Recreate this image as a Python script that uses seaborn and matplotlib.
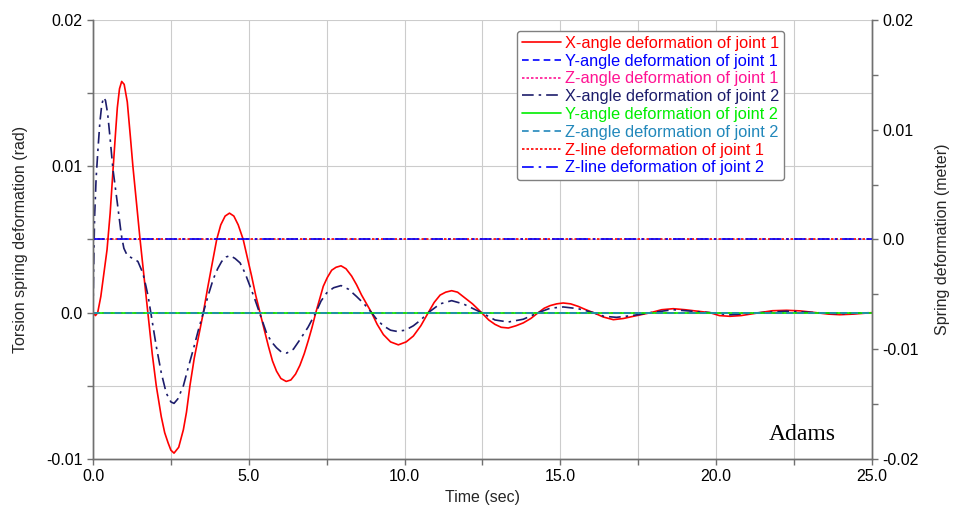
import numpy as np
import pandas as pd
import matplotlib
matplotlib.use("Agg")
import matplotlib.pyplot as plt
from matplotlib.ticker import MultipleLocator, FuncFormatter
import seaborn as sns

# ---- data ----
# X-angle deformation of joint 1 (rad, left axis)
t_x1 = [0.0, 0.08, 0.15, 0.25, 0.35, 0.45, 0.55, 0.65, 0.72, 0.78, 0.85, 0.92,
        1.00, 1.10, 1.20, 1.28, 1.40, 1.51, 1.64, 1.76, 1.90, 2.03, 2.19, 2.30,
        2.41, 2.50, 2.60, 2.75, 2.90, 3.00, 3.11, 3.25, 3.40, 3.54, 3.68, 3.82,
        3.97, 4.10, 4.24, 4.38, 4.52, 4.66, 4.82, 4.96, 5.09, 5.22, 5.36, 5.50,
        5.63, 5.76, 5.89, 6.03, 6.20, 6.35, 6.50, 6.64, 6.78, 6.91, 7.03, 7.15,
        7.27, 7.39, 7.52, 7.66, 7.80, 7.96, 8.12, 8.30, 8.46, 8.62, 8.78, 8.94,
        9.12, 9.32, 9.55, 9.80, 10.05, 10.28, 10.52, 10.76, 10.95, 11.14, 11.32,
        11.51, 11.70, 11.88, 12.18, 12.47, 12.70, 12.90, 13.10, 13.33, 13.57,
        13.81, 14.05, 14.29, 14.48, 14.67, 14.88, 15.09, 15.33, 15.57, 15.82,
        16.06, 16.38, 16.70, 17.02, 17.34, 17.90, 18.25, 18.62, 19.00, 19.80,
        20.10, 20.44, 20.80, 21.40, 21.80, 22.26, 22.70, 23.20, 23.60, 23.97,
        24.40, 25.00]
x1_angle = [0.0, -0.0002, 0.0, 0.0011, 0.0027, 0.0043, 0.0068, 0.0100, 0.0122,
            0.0140, 0.0153, 0.0158, 0.0156, 0.0144, 0.0120, 0.0100, 0.0074,
            0.0050, 0.0024, 0.0, -0.0028, -0.0050, -0.0071, -0.0082, -0.0089,
            -0.0094, -0.0096, -0.0092, -0.0080, -0.0068, -0.0050, -0.0031,
            -0.0015, 0.0, 0.0017, 0.0033, 0.0050, 0.0060, 0.0066, 0.0068,
            0.0066, 0.0060, 0.0050, 0.0037, 0.0025, 0.0012, 0.0, -0.0012,
            -0.0023, -0.0033, -0.0040, -0.0045, -0.0047, -0.0046, -0.0042,
            -0.0036, -0.0028, -0.0019, -0.0010, 0.0, 0.0009, 0.0018, 0.0024,
            0.0029, 0.0031, 0.0032, 0.0030, 0.0025, 0.0019, 0.0012, 0.0006,
            0.0, -0.0008, -0.0015, -0.0020, -0.0022, -0.0020, -0.0016, -0.0009,
            0.0, 0.0007, 0.0012, 0.0014, 0.0015, 0.0014, 0.0011, 0.0006, 0.0,
            -0.0005, -0.0008, -0.0010, -0.00105, -0.0009, -0.0007, -0.0004,
            0.0, 0.0003, 0.00048, 0.0006, 0.00066, 0.0006, 0.00043, 0.0002,
            0.0, -0.0003, -0.00048, -0.0004, -0.00025, 0.0, 0.0002, 0.00027,
            0.0002, 0.0, -0.0002, -0.00025, -0.0002, 0.0, 0.00013, 0.00016,
            0.00012, 0.0, -0.0001, -0.00014, -0.0001, 0.0]

# X-angle deformation of joint 2 (rad, left axis)
t_x2 = [0.0, 0.02, 0.05, 0.10, 0.16, 0.22, 0.28, 0.34, 0.40, 0.47, 0.54, 0.64,
        0.78, 0.91, 0.99, 1.10, 1.28, 1.44, 1.60, 1.70, 1.77, 1.87, 2.03, 2.19,
        2.35, 2.50, 2.60, 2.72, 2.90, 3.05, 3.22, 3.38, 3.54, 3.70, 3.86, 4.00,
        4.13, 4.27, 4.40, 4.56, 4.72, 4.88, 5.04, 5.18, 5.31, 5.44, 5.57, 5.73,
        5.89, 6.05, 6.22, 6.43, 6.64, 6.90, 7.15, 7.32, 7.50, 7.72, 7.96, 8.20,
        8.46, 8.70, 8.94, 9.12, 9.32, 9.55, 9.75, 10.02, 10.28, 10.52, 10.76,
        11.14, 11.51, 11.88, 12.47, 12.90, 13.33, 13.81, 14.29, 14.67, 15.09,
        15.57, 16.06, 16.40, 16.80, 17.30, 17.90, 18.62, 19.80, 20.44, 21.40,
        22.26, 23.20, 23.97, 25.00]
x2_angle = [0.0, 0.0030, 0.0065, 0.0092, 0.0112, 0.0130, 0.0142, 0.0147,
            0.0145, 0.0136, 0.0121, 0.0098, 0.0075, 0.0053, 0.0044, 0.0039,
            0.0037, 0.0035, 0.0027, 0.0018, 0.0011, -0.0002, -0.0023, -0.0041,
            -0.0055, -0.0061, -0.0062, -0.0059, -0.0050, -0.0038, -0.0025,
            -0.0012, 0.0, 0.0012, 0.0023, 0.0030, 0.0035, 0.0038, 0.0039,
            0.0037, 0.0034, 0.0027, 0.0018, 0.0010, 0.0002, -0.0006, -0.0014,
            -0.0020, -0.0024, -0.0027, -0.00276, -0.0025, -0.00185, -0.0010,
            0.0, 0.0008, 0.00135, 0.0017, 0.00185, 0.0016, 0.0011, 0.0006, 0.0,
            -0.0005, -0.0009, -0.0012, -0.00128, -0.0012, -0.0009, -0.0005,
            0.0, 0.0006, 0.00082, 0.0006, 0.0, -0.0005, -0.00064, -0.00045,
            0.0, 0.0003, 0.00039, 0.00027, 0.0, -0.00025, -0.00032, -0.0002,
            0.0, 0.0002, 0.0, -0.00015, 0.0, 0.0001, 0.0, -0.00008, 0.0]

# the remaining channels stay flat at zero
t_flat = [0.0, 25.0]
y1_angle = [0.0, 0.0]
z1_angle = [0.0, 0.0]
y2_angle = [0.0, 0.0]
z2_angle = [0.0, 0.0]
z1_line = [0.0, 0.0]   # meter, right axis
z2_line = [0.0, 0.0]   # meter, right axis

sns.set_theme(style="ticks")
plt.rcParams['font.family'] = ['Liberation Sans', 'DejaVu Sans']
plt.rcParams['font.size'] = 11.5

fig = plt.figure(figsize=(9.54, 5.11), dpi=100)
ax = fig.add_axes([0.0975, 0.1018, 0.8165, 0.8591])
ax2 = ax.twinx()

left_series = [
    (t_x1, x1_angle, "X-angle deformation of joint 1", "#ff0000", "-"),
    (t_flat, y1_angle, "Y-angle deformation of joint 1", "#0000ff", (0, (4, 2.5))),
    (t_flat, z1_angle, "Z-angle deformation of joint 1", "#ff1493", (0, (1.5, 1.2))),
    (t_x2, x2_angle, "X-angle deformation of joint 2", "#1c1c6b", (0, (7, 3, 1.5, 3))),
    (t_flat, y2_angle, "Y-angle deformation of joint 2", "#00ee00", "-"),
    (t_flat, z2_angle, "Z-angle deformation of joint 2", "#2288bb", (0, (4, 2.5))),
]
right_series = [
    (t_flat, z1_line, "Z-line deformation of joint 1", "#ff0000", (0, (1.5, 1.2))),
    (t_flat, z2_line, "Z-line deformation of joint 2", "#0000ff", (0, (7, 3, 1.5, 3))),
]

for t, v, name, col, ls in left_series:
    sns.lineplot(x=t, y=v, ax=ax, color=col, linestyle=ls, lw=1.2, label=name)
for t, v, name, col, ls in right_series:
    sns.lineplot(x=t, y=v, ax=ax2, color=col, linestyle=ls, lw=1.2, label=name)

ax.set_xlim(0, 25)
ax.set_ylim(-0.01, 0.02)
ax2.set_ylim(-0.02, 0.02)

ax.xaxis.set_major_locator(MultipleLocator(5))
ax.xaxis.set_minor_locator(MultipleLocator(2.5))
ax.yaxis.set_major_locator(MultipleLocator(0.01))
ax.yaxis.set_minor_locator(MultipleLocator(0.005))
ax2.yaxis.set_major_locator(MultipleLocator(0.01))
ax2.yaxis.set_minor_locator(MultipleLocator(0.005))

yfmt = FuncFormatter(lambda v, p: "0.0" if abs(v) < 1e-9 else f"{v:.2f}")
ax.yaxis.set_major_formatter(yfmt)
ax2.yaxis.set_major_formatter(yfmt)
ax.xaxis.set_major_formatter(FuncFormatter(lambda v, p: f"{v:.1f}"))

ax.grid(True, which="both", color="#cccccc", lw=0.8)
ax.set_axisbelow(True)

for a in (ax, ax2):
    a.spines['top'].set_visible(False)
    for s in ('left', 'right', 'bottom'):
        a.spines[s].set_color('#707070')
        a.spines[s].set_linewidth(1.0)
    a.tick_params(which="both", direction="out", length=4.5, width=1.0,
                  color="#707070", labelsize=11.5, labelcolor="black", pad=3)

ax.set_xlabel("Time (sec)", fontsize=11.5)
ax.set_ylabel("Torsion spring deformation (rad)", fontsize=11.5)
ax2.set_ylabel("Spring deformation (meter)", fontsize=11.5)
ax.xaxis.set_label_coords(0.5, -0.07)
ax.yaxis.set_label_coords(-0.083, 0.5)
ax2.yaxis.set_label_coords(1.081, 0.5)

ax.text(0.91, 0.055, "Adams", transform=ax.transAxes, ha="center", va="center",
        fontsize=17, family=["Liberation Serif", "DejaVu Serif"], color="black")

h1, l1 = ax.get_legend_handles_labels()
h2, l2 = ax2.get_legend_handles_labels()
if ax.get_legend() is not None:
    ax.get_legend().remove()
leg = ax2.legend(h1 + h2, l1 + l2, loc="upper left", bbox_to_anchor=(0.544, 0.975),
                 borderaxespad=0, fontsize=11.8, labelcolor="linecolor",
                 frameon=True, fancybox=True, framealpha=1, edgecolor="#808080",
                 handlelength=2.4, handletextpad=0.25, labelspacing=0.17,
                 borderpad=0.3)
leg.get_frame().set_linewidth(1.0)

fig.savefig("out.png", dpi=100)
